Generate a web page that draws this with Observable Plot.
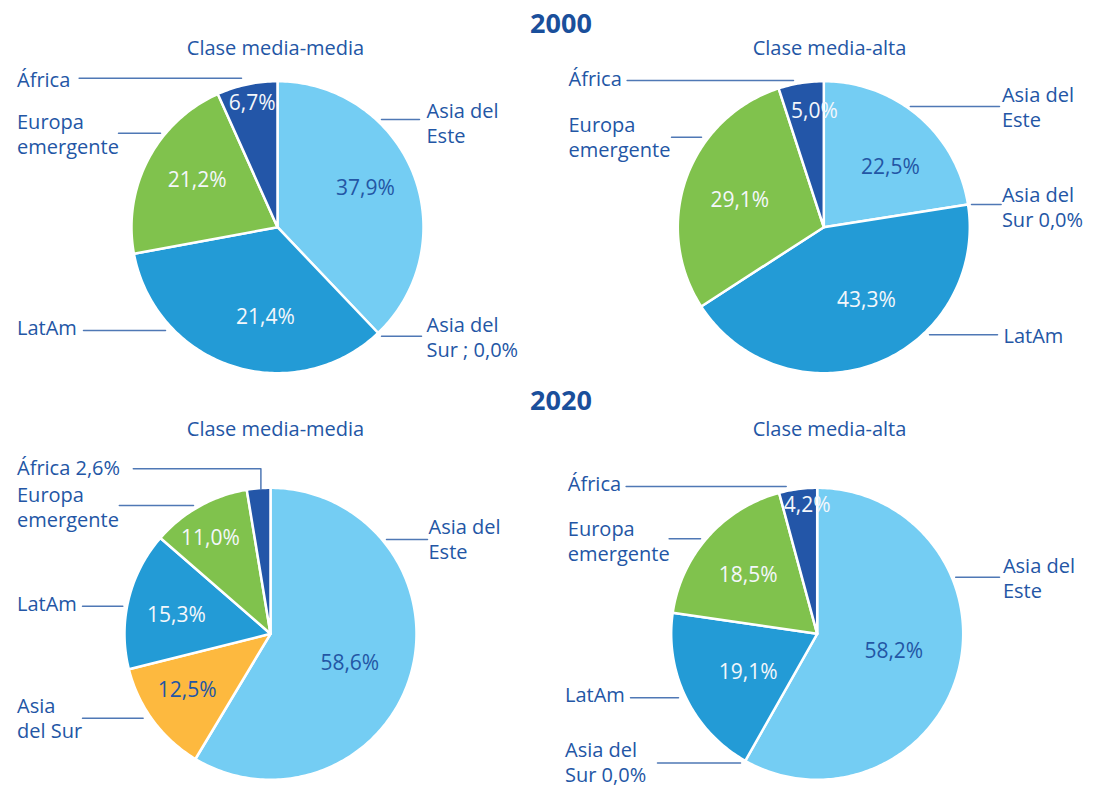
<!DOCTYPE html>
<html><head><meta charset="utf-8">
<script src="https://cdn.jsdelivr.net/npm/d3@7"></script>
<script src="https://cdn.jsdelivr.net/npm/@observablehq/plot@0.6"></script>
<style>
body{margin:0;background:#fff;}
#wrap{position:relative;width:1096px;height:787px;font-family:"Open Sans",sans-serif;overflow:hidden;}
.yr{position:absolute;font-weight:700;font-size:27px;line-height:27px;color:#1A4F9B;transform:translateX(-50%);white-space:nowrap;}
.q{position:absolute;}
</style></head><body><div id="wrap"></div>
<script>
// ---------------- data ----------------
const regions = ["Asia del Este", "Asia del Sur", "LatAm", "Europa emergente", "África"];
const regionColors = ["#74CDF3", "#FDB93F", "#239BD6", "#80C24D", "#2356A8"];
const years = ["2000", "2020"];
const classes = ["Clase media-media", "Clase media-alta"];

const shares2000Media = [37.9, 0.0, 34.2, 21.2, 6.7];
const shares2000Alta  = [22.5, 0.0, 43.3, 29.1, 5.0];
const shares2020Media = [58.6, 12.5, 15.3, 11.0, 2.6];
const shares2020Alta  = [58.2, 0.0, 19.1, 18.5, 4.2];

const pct2000Media = ["37,9%", "", "21,4%", "21,2%", "6,7%"];
const pct2000Alta  = ["22,5%", "", "43,3%", "29,1%", "5,0%"];
const pct2020Media = ["58,6%", "12,5%", "15,3%", "11,0%", ""];
const pct2020Alta  = ["58,2%", "", "19,1%", "18,5%", "4,2%"];

const names2000Media = ["Asia del\nEste", "Asia del\nSur ; 0,0%", "LatAm", "Europa\nemergente", "África"];
const names2000Alta  = ["Asia del\nEste", "Asia del\nSur 0,0%", "LatAm", "Europa\nemergente", "África"];
const names2020Media = ["Asia del\nEste", "Asia\ndel Sur", "LatAm", "Europa\nemergente", "África 2,6%"];
const names2020Alta  = ["Asia del\nEste", "Asia del\nSur 0,0%", "LatAm", "Europa\nemergente", "África"];

// ---------------- layout (page pixels) ----------------
const R = 146;
const textColor = "#2356A5";
const lineColor = "#4F78B5";
const FONT = "Open Sans";
const yearPos = [[561, 9], [561, 386]];
const panels = [
  {year: 0, cls: 0, shares: shares2000Media, pct: pct2000Media, names: names2000Media,
   box: [0, 36, 548, 352], center: [277, 226.7], sub: [275, 54],
   pctPos: [[365,188], null, [265,316.7], [196.7,179.3], [251.7,102.3]],
   namePos: [[426,142], [426,356], [16.5,334], [16.5,153], [16.5,86]],
   leaders: [[[381,119],[419,119]], [[381,335.7],[421,335.7]], [[83,330],[165,330]], [[118,132.7],[160,132.7]], [[78.6,77.7],[241,77.7]]]},
  {year: 0, cls: 1, shares: shares2000Alta, pct: pct2000Alta, names: names2000Alta,
   box: [548, 36, 548, 352], center: [823.3, 226.7], sub: [829, 54],
   pctPos: [[890,166.7], null, [866,300], [739.3,200], [814,110.7]],
   namePos: [[1001.4,126], [1001.4,226], [1003,342], [568,156.7], [568,85]],
   leaders: [[[909.8,106],[999,106]], [[971,204],[1000.6,204]], [[929,334.3],[997,334.3]], [[671,136.7],[701,136.7]], [[626.6,80],[793,80]]]},
  {year: 1, cls: 0, shares: shares2020Media, pct: pct2020Media, names: names2020Media,
   box: [0, 412, 548, 375], center: [270, 633.3], sub: [275, 435],
   pctPos: [[349.3,662.3], [186.7,690], [176,614.3], [210,537.7], null],
   namePos: [[428,558.3], [16.5,737.7], [16.5,610.7], [16.5,526.5], [16.5,474]],
   leaders: [[[386,539],[427,539]], [[82,717.7],[142.6,717.7]], [[82,605.7],[122.3,605.7]], [[118.8,505],[193,505]], [[132.8,468.3],[260.4,468.3],[260.4,489]]]},
  {year: 1, cls: 1, shares: shares2020Alta, pct: pct2020Alta, names: names2020Alta,
   box: [548, 412, 548, 375], center: [816.7, 633.3], sub: [829, 435],
   pctPos: [[893.3,651], null, [747.7,671.7], [747.7,574.3], [806.7,505]],
   namePos: [[1002.4,597], [564.5,781], [564.5,701], [567.3,560.7], [567.3,490.7]],
   leaders: [[[955.2,576.7],[999,576.7]], [[657,762.5],[740,762.5]], [[630,697.3],[678,697.3]], [[668.6,538.3],[700,538.3]], [[625.6,486],[785.7,486]]]}
];

// ---------------- render ----------------
const wrap = document.getElementById("wrap");
const darkText = new Set(["Asia del Este", "Asia del Sur"]);

for (const p of panels) {
  const [left, top, W, H] = p.box;
  const [cx, cy] = p.center;
  const loc = ([x, y]) => ({x: x - cx, y: y - cy});

  const rows = regions.map((r, i) => ({region: r, value: p.shares[i], pct: p.pct[i], name: p.names[i], i}));
  const arcs = d3.pie().sort(null).value(d => d.value)(rows);
  const slicePts = [];
  for (const a of arcs) {
    if (!(a.data.value > 0)) continue;
    const n = Math.max(2, Math.ceil((a.endAngle - a.startAngle) / (Math.PI / 180)));
    slicePts.push({region: a.data.region, x: 0, y: 0});
    for (let k = 0; k <= n; k++) {
      const t = a.startAngle + (a.endAngle - a.startAngle) * k / n;
      slicePts.push({region: a.data.region, x: R * Math.sin(t), y: -R * Math.cos(t)});
    }
    slicePts.push({region: a.data.region, x: 0, y: 0});
  }

  const leaderPts = [];
  p.leaders.forEach((poly, i) => poly.forEach(pt => leaderPts.push({id: i, ...loc(pt)})));

  const nameRows = rows.map(d => ({text: d.name, ...loc(p.namePos[d.i])}));
  const pctRows = rows.filter(d => d.pct && p.pctPos[d.i]).map(d => ({text: d.pct, region: d.region, ...loc(p.pctPos[d.i])}));
  const subRow = [{text: classes[p.cls], ...loc(p.sub)}];

  const chart = Plot.plot({
    width: W, height: H, margin: 0,
    x: {domain: [left - cx, left + W - cx], range: [0, W], axis: null},
    y: {domain: [top - cy, top + H - cy], range: [0, H], axis: null},
    color: {domain: regions, range: regionColors},
    style: {background: "transparent", fontFamily: FONT, overflow: "visible"},
    marks: [
      Plot.line(slicePts, {x: "x", y: "y", z: "region", fill: "region", stroke: "white", strokeWidth: 2.5, strokeLinejoin: "round", curve: "linear"}),
      Plot.line(leaderPts, {x: "x", y: "y", z: "id", stroke: lineColor, strokeWidth: 1.5, curve: "linear"}),
      Plot.text(nameRows, {x: "x", y: "y", text: "text", textAnchor: "start", lineAnchor: "bottom", lineHeight: 1.25, fontSize: 20, fill: textColor}),
      Plot.text(pctRows.filter(d => darkText.has(d.region)), {x: "x", y: "y", text: "text", textAnchor: "middle", lineAnchor: "middle", fontSize: 21, fill: textColor}),
      Plot.text(pctRows.filter(d => !darkText.has(d.region)), {x: "x", y: "y", text: "text", textAnchor: "middle", lineAnchor: "middle", fontSize: 21, fill: "#F4F7FB"}),
      Plot.text(subRow, {x: "x", y: "y", text: "text", textAnchor: "middle", lineAnchor: "bottom", fontSize: 20, fill: textColor})
    ]
  });
  const holder = document.createElement("div");
  holder.className = "q";
  holder.style.left = left + "px";
  holder.style.top = top + "px";
  holder.appendChild(chart);
  wrap.appendChild(holder);
}

years.forEach((y, i) => {
  const d = document.createElement("div");
  d.className = "yr";
  d.textContent = y;
  d.style.left = yearPos[i][0] + "px";
  d.style.top = yearPos[i][1] + "px";
  wrap.appendChild(d);
});
</script>
</body></html>
